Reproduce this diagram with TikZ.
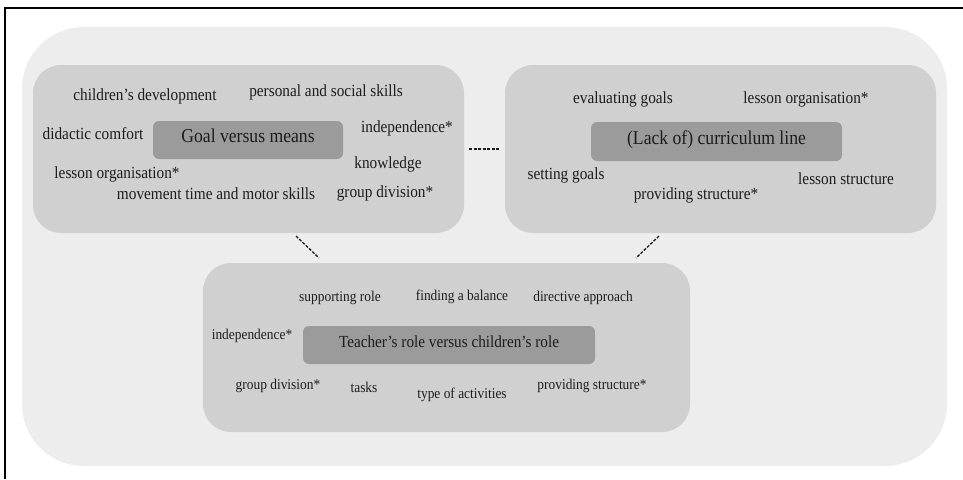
\documentclass[tikz,border=0pt]{standalone}
\usepackage{fontspec}
\setmainfont[FakeStretch=0.9]{Liberation Serif}
\definecolor{outerbg}{HTML}{EDEDED}
\definecolor{boxbg}{HTML}{D0D0D0}
\definecolor{corebg}{HTML}{9B9B9B}
\definecolor{ink}{HTML}{1C1C1C}
\tikzset{
  outerbox/.style={fill=outerbg, draw=none, rounded corners=62pt, inner sep=0, rectangle},
  themebox/.style={fill=boxbg, draw=none, rounded corners=28pt, inner sep=0, rectangle},
  corebox/.style={fill=corebg, draw=none, rounded corners=6pt, inner sep=0, rectangle, text=ink, text height=0.7em, text depth=0.2em},
  lbl/.style={text=ink, inner sep=0, text height=0.7em, text depth=0.2em, font=\fontsize{17}{19}\selectfont},
  lblsm/.style={lbl, font=\fontsize{14.9}{17}\selectfont},
  link/.style={draw=ink, line width=1.3pt, dash pattern=on 3pt off 1.5pt},
}
\begin{document}
\begin{tikzpicture}[x=1pt, y=-1pt]
\useasboundingbox (0,0) rectangle (963,479);
% frame (top and left edges)
\coordinate (ftr) at (963,8);
\coordinate (ftl) at (5,8);
\coordinate (fbl) at (5,479);
\draw[line width=2pt, black] (ftr) -- (ftl) -- (fbl);
% outer panel
\node[outerbox, minimum width=925pt, minimum height=439pt] (outer) at (484.5,246.5) {};
% theme boxes
\node[themebox, minimum width=431pt, minimum height=168pt] (goalbox) at (248.5,149) {};
\node[themebox, minimum width=431pt, minimum height=168pt] (currbox) at (720.5,149) {};
\node[themebox, minimum width=487pt, minimum height=169pt] (rolebox) at (446.5,347.5) {};
% core labels
\node[corebox, minimum width=190pt, minimum height=38pt, font=\fontsize{19.6}{22}\selectfont] (goal) at (248,140) {Goal versus means};
\node[corebox, minimum width=251pt, minimum height=39pt, font=\fontsize{19.6}{22}\selectfont] (curr) at (716.5,141.5) {(Lack of) curriculum line};
\node[corebox, minimum width=292pt, minimum height=38pt, font=\fontsize{16.9}{19}\selectfont] (role) at (449,345) {Teacher’s role versus children’s role};
% goal versus means labels
\node[lbl] (cd) at (145,98) {children’s development};
\node[lbl] (psk) at (326,94) {personal and social skills};
\node[lbl] (dc) at (93,137) {didactic comfort};
\node[lbl] (inA) at (407,130) {independence*};
\node[lbl] (kn) at (388,166) {knowledge};
\node[lbl] (loA) at (117,176) {lesson organisation*};
\node[lbl] (mt) at (216,197) {movement time and motor skills};
\node[lbl] (gdA) at (385,195) {group division*};
% curriculum labels
\node[lbl] (eg) at (623,101) {evaluating goals};
\node[lbl] (loB) at (806,101) {lesson organisation*};
\node[lbl] (sg) at (566,177) {setting goals};
\node[lbl] (ls) at (846,182) {lesson structure};
\node[lbl] (psB) at (696,197) {providing structure*};
% role labels
\node[lblsm] (sr) at (340,299) {supporting role};
\node[lblsm] (fb) at (462,298) {finding a balance};
\node[lblsm] (da) at (583,299) {directive approach};
\node[lblsm] (inB) at (252,337) {independence*};
\node[lblsm] (gdB) at (278,387) {group division*};
\node[lblsm] (ts) at (364,390) {tasks};
\node[lblsm] (ta) at (462,396) {type of activities};
\node[lblsm] (psC) at (592,387) {providing structure*};
% dashed links between theme boxes
\coordinate (l1a) at (469,149);
\coordinate (l1b) at (499,149);
\coordinate (l2a) at (296,236);
\coordinate (l2b) at (319,258);
\coordinate (l3a) at (659,236);
\coordinate (l3b) at (636,258);
\draw[link] (l1a) -- (l1b);
\draw[link] (l2a) -- (l2b);
\draw[link] (l3a) -- (l3b);
\end{tikzpicture}
\end{document}
